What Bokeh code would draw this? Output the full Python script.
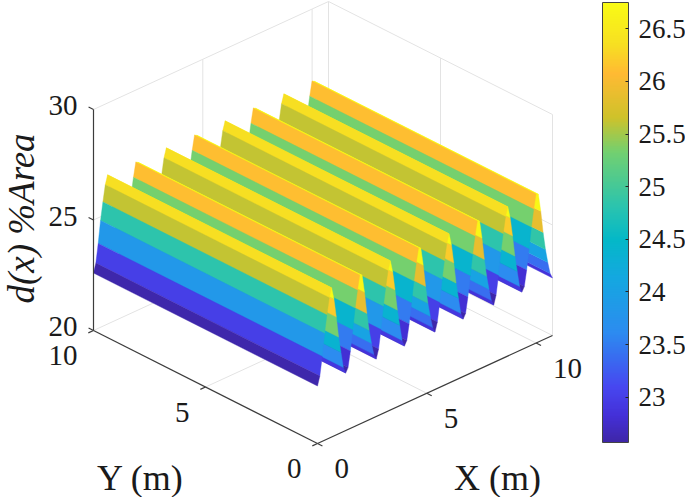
from bokeh.plotting import figure
from bokeh.models import Range1d, LinearColorMapper, ColorBar, FixedTicker, ColumnDataSource
from bokeh.core.properties import value
from bokeh.embed import file_html
from bokeh.resources import INLINE
import numpy as np

# ---- data ----
x_tick_values = [0, 5, 10]
y_tick_values = [0, 5, 10]
z_tick_values = [20, 25, 30]
cbar_ticks = [23, 23.5, 24, 24.5, 25, 25.5, 26, 26.5]
x_limits = [0, 10.75]
y_limits = [0, 10]
z_limits = [20, 30]
c_limits = [22.57, 26.75]
# height along X for two neighbouring ridges (repeats 4 times, then closes on the first value)
ridge_odd = [22.60, 23.00, 23.84, 24.83, 25.62, 26.35, 26.75, 26.20, 25.33, 24.37, 23.63, 22.90]
ridge_even = [22.60, 22.80, 23.50, 24.40, 25.33, 26.10, 26.74, 26.68, 25.87, 24.86, 24.04, 23.40, 22.85]
ridge_pair = ridge_odd + ridge_even
z_profile = ridge_pair * 4 + ridge_pair[:1]

FS = "Liberation Serif"
GRID = "#e3e3e3"
AXIS = "#3c3c3c"

# parula-like colormap
stops = [0, .06, .125, .25, .375, .46, .538, .66, .74, .84, .905, 1]
cols = ["#3e26a8", "#4430d8", "#4747f0", "#2c8cf0", "#14a8e0", "#04b8c8", "#2bc4ae", "#72d070",
        "#cfc22a", "#ffba33", "#f7df22", "#f9fb15"]
rgb = np.array([[int(c[i:i + 2], 16) for i in (1, 3, 5)] for c in cols], float)
tt = np.linspace(0, 1, 256)
palette = ["#%02x%02x%02x" % tuple(int(round(np.interp(t, stops, rgb[:, i]))) for i in range(3)) for t in tt]
mapper = LinearColorMapper(palette=palette, low=c_limits[0], high=c_limits[1])


# axonometric view: box corners seen at fixed screen positions
def proj(x, y, z):
    fx = (np.asarray(x, float) - x_limits[0]) / (x_limits[1] - x_limits[0])
    fy = (np.asarray(y, float) - y_limits[0]) / (y_limits[1] - y_limits[0])
    fz = (np.asarray(z, float) - z_limits[0]) / (z_limits[1] - z_limits[0])
    return 317 + 235 * fx - 224 * fy, 443 - 108 * fx - 113 * fy - 221 * fz


p = figure(width=685, height=497, x_range=Range1d(0, 685), y_range=Range1d(497, 0),
           x_axis_type=None, y_axis_type=None, toolbar_location=None, output_backend="svg",
           min_border=0, outline_line_color=None, margin=(0, 0, 0, 0))
p.grid.visible = False

x0, x1 = x_limits
y0, y1 = y_limits
z0, z1 = z_limits


def segs(list3d, color, width):
    xs, ys = [], []
    for a, b in list3d:
        ax, ay = proj(*a)
        bx, by = proj(*b)
        xs.append([float(ax), float(bx)])
        ys.append([float(ay), float(by)])
    p.multi_line(xs, ys, line_color=color, line_width=width)


grid = []
for z in z_tick_values:
    grid.append(((x0, y1, z), (x1, y1, z)))
    grid.append(((x1, y1, z), (x1, y0, z)))
grid.append(((x1, y1, z0), (x1, y1, z1)))
grid.append(((x1, y0, z0), (x1, y0, z1)))
for x in x_tick_values[1:]:
    grid.append(((x, y0, z0), (x, y1, z0)))
    grid.append(((x, y1, z0), (x, y1, z1)))
for y in y_tick_values[1:-1]:
    grid.append(((x0, y, z0), (x1, y, z0)))
    grid.append(((x1, y, z0), (x1, y, z1)))
segs(grid, GRID, 1)

# surface: one flat quad for each X step, far ones first
xg = np.linspace(x0, x1, len(z_profile))
zg = np.array(z_profile)
qx, qy, qc = [], [], []
for i in range(len(xg) - 2, -1, -1):
    px, py = proj([xg[i], xg[i + 1], xg[i + 1], xg[i]], [y0, y0, y1, y1], [zg[i], zg[i + 1], zg[i + 1], zg[i]])
    qx.append(px.tolist())
    qy.append(py.tolist())
    qc.append(float(zg[i]))
src = ColumnDataSource(dict(xs=qx, ys=qy, c=qc))
p.patches("xs", "ys", source=src,
          fill_color={"field": "c", "transform": mapper},
          line_color={"field": "c", "transform": mapper}, line_width=0.4)

# axes
dy = 0.22 * (y1 - y0) / 10
dx = 0.22 * (x1 - x0) / 10
ax = [((x0, y1, z0), (x0, y1, z1)), ((x0, y0, z0), (x0, y1, z0)), ((x0, y0, z0), (x1, y0, z0))]
for z in z_tick_values:
    ax.append(((x0, y1, z), (x0, y1 + dy, z)))
for x in x_tick_values:
    ax.append(((x, y0, z0), (x, y0 - dy, z0)))
for y in y_tick_values:
    ax.append(((x0, y, z0), (x0 - dx, y, z0)))
segs(ax, AXIS, 1.2)

# tick labels
tick_font = value(FS)
zx, zy = proj([x0] * 3, [y1] * 3, z_tick_values)
p.text(zx, zy, text=[str(v) for v in z_tick_values], text_font=tick_font, text_font_size="29px",
       text_color="#1a1a1a", text_align="right", text_baseline="middle", x_offset=-16, y_offset=-4)
yx, yy = proj([x0] * 3, y_tick_values, [z0] * 3)
p.text(yx, yy, text=[str(v) for v in y_tick_values], text_font=tick_font, text_font_size="29px",
       text_color="#1a1a1a", text_align="right", text_baseline="middle", x_offset=-16, y_offset=25)
xx, xy = proj(x_tick_values, [y0] * 3, [z0] * 3)
p.text(xx, xy, text=[str(v) for v in x_tick_values], text_font=tick_font, text_font_size="29px",
       text_color="#1a1a1a", text_align="left", text_baseline="middle", x_offset=17, y_offset=25)

# axis titles
p.text([140], [477], text=["Y (m)"], text_font=tick_font, text_font_size="36px", text_color="#1a1a1a",
       text_align="center", text_baseline="middle")
p.text([497], [477], text=["X (m)"], text_font=tick_font, text_font_size="36px", text_color="#1a1a1a",
       text_align="center", text_baseline="middle")
p.text([21], [218], text=["d(x) %Area"], text_font=tick_font, text_font_style="italic", text_font_size="37px",
       text_color="#1a1a1a", text_align="center", text_baseline="middle", angle=np.pi / 2)

cb = ColorBar(color_mapper=mapper, ticker=FixedTicker(ticks=cbar_ticks), location=(602, 55),
              width=26, height=440, padding=0, margin=0,
              major_label_text_font=FS, major_label_text_font_size="27px", major_label_text_color="#1a1a1a",
              major_tick_line_color="#222222", major_tick_in=3, major_tick_out=0, label_standoff=10,
              minor_tick_line_color=None, bar_line_color="#444444", bar_line_width=1,
              background_fill_alpha=0, border_line_color=None,
              major_label_overrides={23: "23", 24: "24", 25: "25", 26: "26"})
p.add_layout(cb, "center")

open("out.html", "w").write(file_html(p, INLINE))
